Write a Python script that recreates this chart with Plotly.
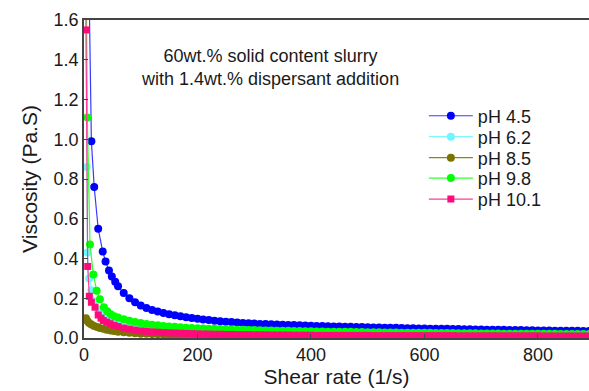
import plotly.graph_objects as go

# ---------------- data ----------------
SERIES_NAMES = ["pH 4.5", "pH 6.2", "pH 8.5", "pH 9.8", "pH 10.1"]

# shared shear-rate grid of the dense part of the sweep (1/s)
TAIL_X = list(range(60, 900, 10))

# low shear-rate part (individual points)
X45_HEAD = [4.5, 13, 18, 25, 33, 38, 44, 49, 55]
Y45_HEAD = [2.6, 0.99, 0.76, 0.55, 0.435, 0.385, 0.34, 0.31, 0.283]
Y45_TAIL = [0.260, 0.226, 0.200, 0.180, 0.164, 0.151, 0.141, 0.133, 0.126, 0.120,
            0.115, 0.110, 0.105, 0.101, 0.097, 0.093, 0.090, 0.087, 0.084, 0.082,
            0.080, 0.078, 0.076, 0.074, 0.073, 0.071, 0.070, 0.069, 0.068, 0.067,
            0.066, 0.065, 0.064, 0.063, 0.062, 0.061, 0.060, 0.059, 0.058, 0.058,
            0.057, 0.056, 0.055, 0.055, 0.054, 0.053, 0.053, 0.052, 0.051, 0.051,
            0.050, 0.049, 0.049, 0.048, 0.048, 0.047, 0.047, 0.046, 0.046, 0.045,
            0.045, 0.044, 0.044, 0.043, 0.043, 0.042, 0.042, 0.041, 0.041, 0.040,
            0.040, 0.040, 0.039, 0.039, 0.038, 0.038, 0.038, 0.037, 0.037, 0.036,
            0.036, 0.036, 0.035, 0.035]

X62_HEAD = [2, 4.7, 6, 9, 13, 18, 25, 31, 37, 43, 50]
Y62_HEAD = [2.5, 0.86, 0.43, 0.30, 0.24, 0.185, 0.145, 0.12, 0.105, 0.095, 0.087]
Y62_TAIL = [0.080, 0.074, 0.069, 0.064, 0.060, 0.057, 0.054, 0.051, 0.049, 0.047,
            0.045, 0.043, 0.042, 0.041, 0.040, 0.039, 0.038, 0.037, 0.036, 0.035,
            0.034, 0.034, 0.033, 0.032, 0.032, 0.031, 0.031, 0.030, 0.030, 0.029,
            0.029, 0.028, 0.028, 0.028, 0.027, 0.027, 0.026, 0.026, 0.026, 0.025,
            0.025, 0.025, 0.024, 0.024, 0.024, 0.023, 0.023, 0.023, 0.023, 0.022,
            0.022, 0.022, 0.022, 0.021, 0.021, 0.021, 0.021, 0.020, 0.020, 0.020,
            0.020, 0.020, 0.019, 0.019, 0.019, 0.019, 0.019, 0.019, 0.018, 0.018,
            0.018, 0.018, 0.018, 0.018, 0.018, 0.017, 0.017, 0.017, 0.017, 0.017,
            0.017, 0.017, 0.017, 0.016]

X85_HEAD = [1.5, 3.5, 6, 9, 13, 18, 23, 28, 34, 40, 47, 53]
Y85_HEAD = [0.095, 0.10, 0.085, 0.075, 0.068, 0.06, 0.055, 0.05, 0.046, 0.042, 0.038, 0.035]
Y85_TAIL = [0.032, 0.029, 0.026, 0.024, 0.022, 0.021, 0.020, 0.019, 0.018, 0.017,
            0.016, 0.016, 0.015, 0.015, 0.014, 0.014, 0.013, 0.013, 0.013, 0.012,
            0.012, 0.012, 0.011, 0.011, 0.011, 0.010, 0.010, 0.010, 0.010, 0.010,
            0.010, 0.010, 0.010, 0.010, 0.010, 0.009, 0.009, 0.009, 0.009, 0.009,
            0.009, 0.009, 0.009, 0.009, 0.009, 0.009, 0.009, 0.009, 0.009, 0.009,
            0.008, 0.008, 0.008, 0.008, 0.008, 0.008, 0.008, 0.008, 0.008, 0.008,
            0.008, 0.008, 0.008, 0.008, 0.008, 0.008, 0.008, 0.008, 0.007, 0.007,
            0.007, 0.007, 0.007, 0.007, 0.007, 0.007, 0.007, 0.007, 0.007, 0.007,
            0.007, 0.007, 0.007, 0.007]

X98_HEAD = [2.5, 5.8, 10.6, 16.4, 22.3, 28, 35, 41, 47, 53]
Y98_HEAD = [2.4, 1.11, 0.47, 0.32, 0.238, 0.195, 0.155, 0.135, 0.12, 0.11]
Y98_TAIL = [0.103, 0.094, 0.087, 0.081, 0.076, 0.071, 0.067, 0.064, 0.061, 0.058,
            0.056, 0.054, 0.052, 0.050, 0.049, 0.048, 0.047, 0.046, 0.045, 0.044,
            0.043, 0.042, 0.041, 0.040, 0.040, 0.039, 0.038, 0.038, 0.037, 0.036,
            0.036, 0.035, 0.035, 0.034, 0.034, 0.033, 0.033, 0.032, 0.032, 0.031,
            0.031, 0.031, 0.030, 0.030, 0.029, 0.029, 0.029, 0.028, 0.028, 0.028,
            0.027, 0.027, 0.027, 0.026, 0.026, 0.026, 0.025, 0.025, 0.025, 0.025,
            0.024, 0.024, 0.024, 0.024, 0.023, 0.023, 0.023, 0.023, 0.022, 0.022,
            0.022, 0.022, 0.022, 0.021, 0.021, 0.021, 0.021, 0.021, 0.020, 0.020,
            0.020, 0.020, 0.020, 0.020]

X101_HEAD = [1.5, 3.5, 6.5, 9.4, 13, 19.4, 25, 30, 34, 40, 46, 53]
Y101_HEAD = [3.0, 1.55, 0.36, 0.21, 0.18, 0.155, 0.116, 0.10, 0.088, 0.08, 0.072, 0.064]
Y101_TAIL = [0.058, 0.050, 0.045, 0.040, 0.036, 0.033, 0.031, 0.029, 0.027, 0.026,
             0.025, 0.024, 0.023, 0.022, 0.021, 0.020, 0.020, 0.019, 0.019, 0.018,
             0.018, 0.017, 0.017, 0.017, 0.016, 0.016, 0.016, 0.015, 0.015, 0.015,
             0.015, 0.014, 0.014, 0.014, 0.014, 0.013, 0.013, 0.013, 0.013, 0.013,
             0.013, 0.013, 0.013, 0.013, 0.013, 0.012, 0.012, 0.012, 0.012, 0.012,
             0.012, 0.012, 0.012, 0.012, 0.012, 0.012, 0.012, 0.012, 0.012, 0.012,
             0.011, 0.011, 0.011, 0.011, 0.011, 0.011, 0.011, 0.011, 0.011, 0.011,
             0.011, 0.011, 0.011, 0.011, 0.011, 0.010, 0.010, 0.010, 0.010, 0.010,
             0.010, 0.010, 0.010, 0.010]

X_TICKS = [0, 200, 400, 600, 800]
Y_TICKS = [0.0, 0.2, 0.4, 0.6, 0.8, 1.0, 1.2, 1.4, 1.6]

ANNOT_TEXT = "60wt.% solid content slurry<br>with 1.4wt.% dispersant addition"

# ---------------- styling ----------------
series = [
    (SERIES_NAMES[0], X45_HEAD, Y45_HEAD, Y45_TAIL, "#0000FF", "#3A3AFF", "circle"),
    (SERIES_NAMES[1], X62_HEAD, Y62_HEAD, Y62_TAIL, "#6FF5FF", "#7FF7FF", "circle"),
    (SERIES_NAMES[2], X85_HEAD, Y85_HEAD, Y85_TAIL, "#7A7400", "#8A8420", "circle"),
    (SERIES_NAMES[3], X98_HEAD, Y98_HEAD, Y98_TAIL, "#00FF00", "#33FF33", "circle"),
    (SERIES_NAMES[4], X101_HEAD, Y101_HEAD, Y101_TAIL, "#FF0A7A", "#FF3D95", "square"),
]

FONT = "Liberation Sans, Arial, sans-serif"
LEGEND_IDS = ["legend", "legend2", "legend3", "legend4", "legend5"]
LEGEND_ROW_Y = [0.698, 0.632, 0.566, 0.502, 0.436]

fig = go.Figure()
for i, (name, xh, yh, yt, mcol, lcol, sym) in enumerate(series):
    fig.add_trace(go.Scatter(
        x=list(xh) + TAIL_X[:len(yt)],
        y=list(yh) + list(yt),
        name=name,
        mode="lines+markers",
        line=dict(color=lcol, width=1.2),
        marker=dict(symbol=sym, size=8 if sym == "circle" else 7, color=mcol,
                    line=dict(width=0)),
        cliponaxis=True,
        legend=LEGEND_IDS[i],
    ))

legend_common = dict(
    xanchor="left", yanchor="middle",
    bgcolor="rgba(0,0,0,0)", borderwidth=0,
    font=dict(family=FONT, size=18, color="#1a1a1a"),
    itemwidth=44,
)
layout_legends = {}
for lid, ly in zip(LEGEND_IDS, LEGEND_ROW_Y):
    layout_legends[lid] = dict(x=0.673, y=ly, **legend_common)

fig.update_layout(
    width=589, height=391,
    margin=dict(l=84, r=0, t=20, b=53),
    paper_bgcolor="white", plot_bgcolor="white",
    font=dict(family=FONT, size=18, color="#1a1a1a"),
    showlegend=True,
    annotations=[dict(
        text=ANNOT_TEXT, x=0.368, y=0.852, xref="paper", yref="paper",
        xanchor="center", yanchor="middle", showarrow=False, align="center",
        font=dict(family=FONT, size=18, color="#1a1a1a"),
    )],
    **layout_legends,
)

fig.update_xaxes(
    range=[0, 890], tickvals=X_TICKS, ticktext=[str(v) for v in X_TICKS],
    showgrid=False, zeroline=False,
    showline=True, linecolor="#444444", linewidth=1.5, mirror=True,
    ticks="inside", ticklen=4, tickcolor="#444444",
    title=dict(text="Shear rate (1/s)", standoff=4, font=dict(size=21)),
    tickfont=dict(size=18),
)
fig.update_yaxes(
    range=[0, 1.6], tickvals=Y_TICKS, ticktext=[f"{v:.1f}" for v in Y_TICKS],
    showgrid=False, zeroline=False,
    showline=True, linecolor="#444444", linewidth=1.5, mirror=False,
    ticks="inside", ticklen=4, tickcolor="#444444",
    title=dict(text="Viscosity (Pa.S)", standoff=10, font=dict(size=21)),
    tickfont=dict(size=18),
)

fig.write_html("out.html")
